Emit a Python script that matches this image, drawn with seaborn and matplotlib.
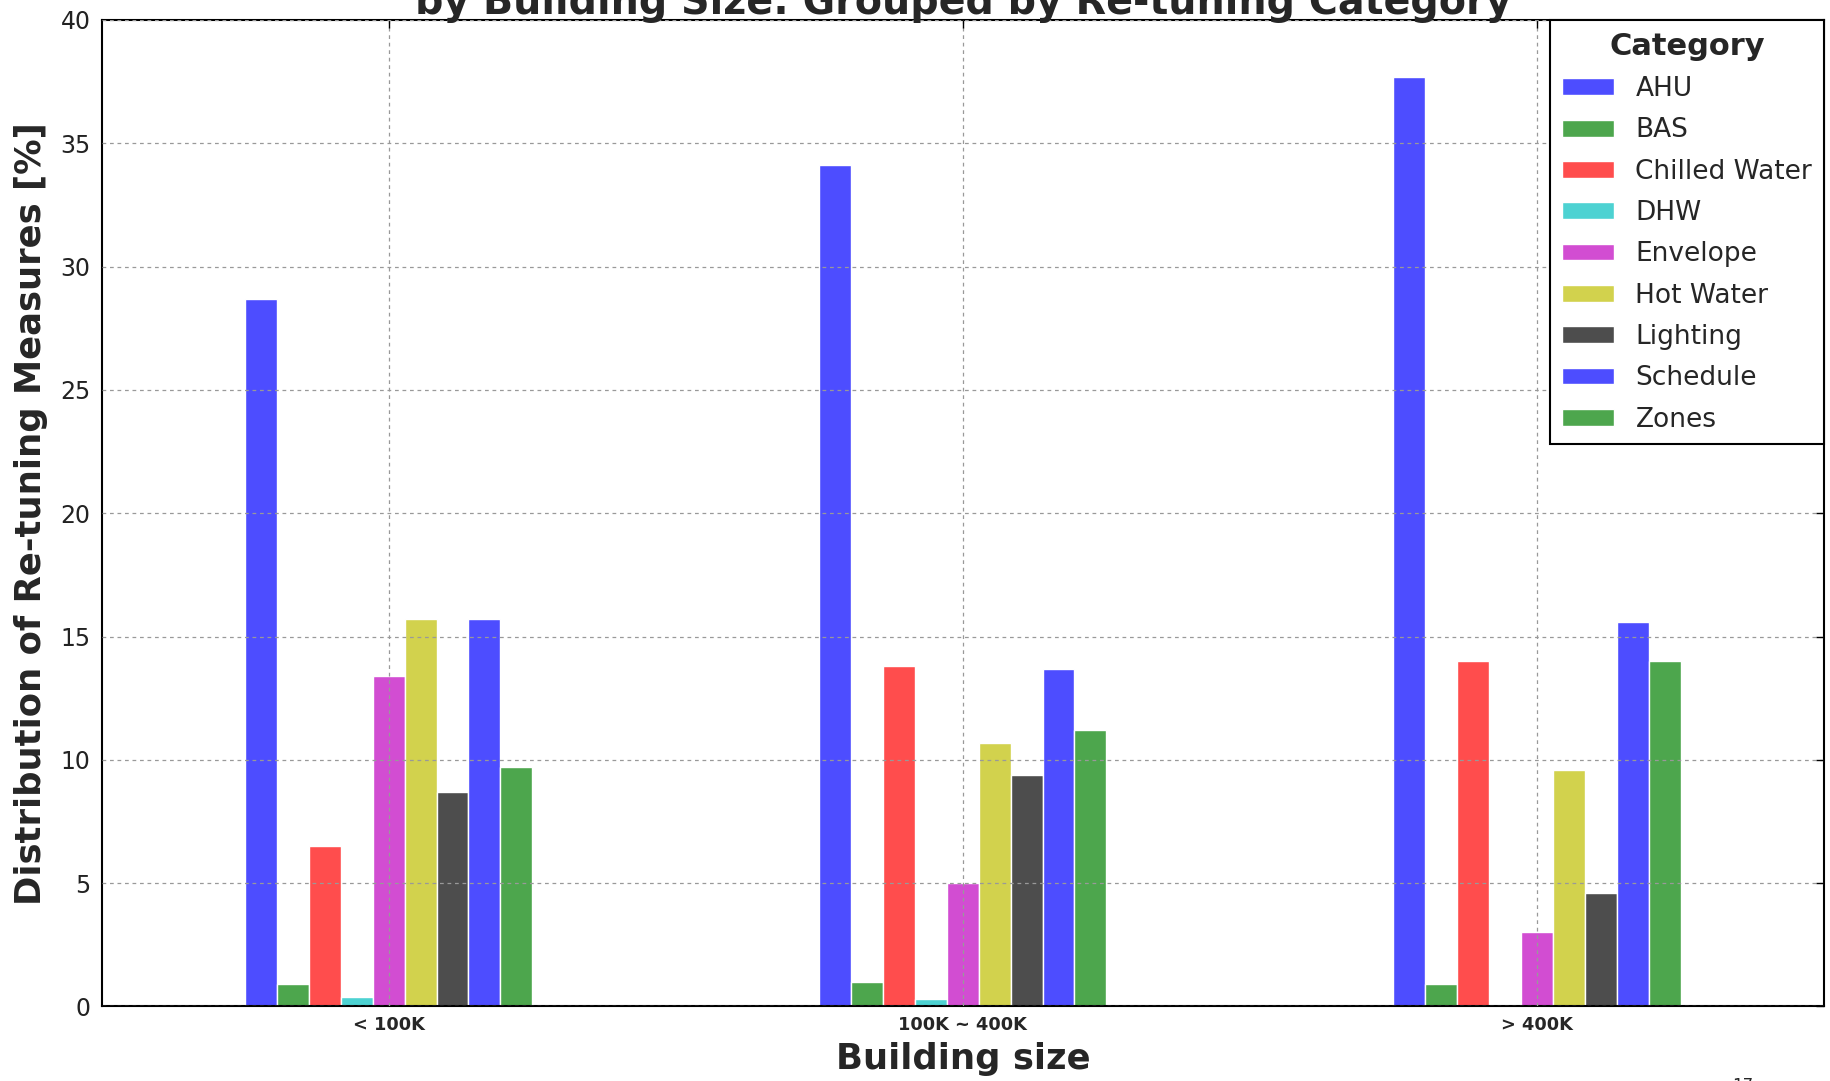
import numpy as np
import pandas as pd
import matplotlib
matplotlib.use('Agg')
import matplotlib.pyplot as plt
import seaborn as sns

sizes = ['< 100K', '100K ~ 400K', '> 400K']
categories = ['AHU', 'BAS', 'Chilled Water', 'DHW', 'Envelope',
              'Hot Water', 'Lighting', 'Schedule', 'Zones']
under_100k = [28.7, 0.9, 6.5, 0.4, 13.4, 15.7, 8.7, 15.7, 9.7]
from_100k_to_400k = [34.1, 1.0, 13.8, 0.3, 5.0, 10.7, 9.4, 13.7, 11.2]
over_400k = [37.7, 0.9, 14.0, 0.0, 3.0, 9.6, 4.6, 15.6, 14.0]

# old matplotlib 'bgrcmyk' cycle drawn at alpha 0.7 on white
colors = ['#4d4dff', '#4da64d', '#ff4d4d', '#4dd2d2', '#d24dd2',
          '#d2d24d', '#4d4d4d', '#4d4dff', '#4da64d']

rows = []
for size, vals in zip(sizes, [under_100k, from_100k_to_400k, over_400k]):
    for cat, v in zip(categories, vals):
        rows.append({'size': size, 'category': cat, 'share': v})
df = pd.DataFrame(rows)

sns.set_style('white')
plt.rcParams['font.family'] = ['DejaVu Sans']

fig, ax = plt.subplots(figsize=(18.31, 10.81), dpi=100)
fig.subplots_adjust(left=0.0555, right=0.9962, top=0.9815, bottom=0.069)

sns.barplot(data=df, x='size', y='share', hue='category', order=sizes,
            hue_order=categories, palette=colors, width=0.5, saturation=1,
            edgecolor='white', linewidth=1, ax=ax)

ax.set_xlim(-0.5, 2.5)
ax.set_ylim(0, 40)
ax.set_yticks(np.arange(0, 41, 5))
ax.grid(True, color='0.6', linestyle=(0, (3, 3)), linewidth=0.9)
ax.set_axisbelow(False)
ax.tick_params(direction='in', top=True, right=True, length=6, width=1,
               color='black')
ax.tick_params(axis='y', labelsize=17, labelcolor='#222222', pad=8)
ax.tick_params(axis='x', labelsize=12.8, pad=7)
for lab in ax.get_xticklabels():
    lab.set_fontweight('bold')

for s in ax.spines.values():
    s.set_color('black')
    s.set_linewidth(1.5)

ax.set_xlabel('Building size', fontsize=25.5, fontweight='bold', labelpad=6)
ax.set_ylabel('Distribution of Re-tuning Measures [%]', fontsize=25.5,
              fontweight='bold', labelpad=9)
ax.set_title('by Building Size: Grouped by Re-tuning Category', fontsize=28.5,
             fontweight='bold', pad=4)

sns.move_legend(ax, 'upper right', title='Category', borderaxespad=0,
                frameon=True, fancybox=False, fontsize=19, title_fontsize=22,
                framealpha=1, edgecolor='black', labelspacing=0.58,
                handlelength=2.0, handleheight=0.6, borderpad=0.45)
leg = ax.get_legend()
leg.get_title().set_fontweight('bold')
leg.get_frame().set_linewidth(1.5)

# page number, cut by the bottom edge
fig.text(0.946, 1 - 1077 / 1081, '17', fontsize=12, va='top')

fig.savefig('out.png', dpi=100)
